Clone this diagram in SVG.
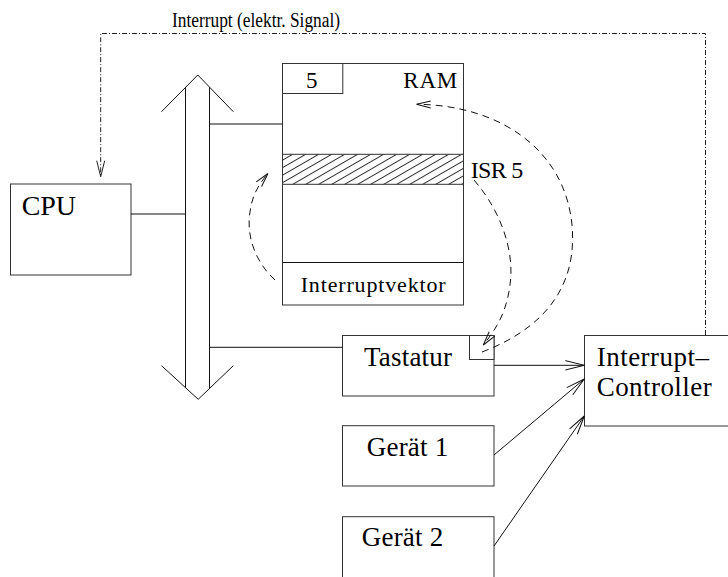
<svg xmlns="http://www.w3.org/2000/svg" width="728" height="577" viewBox="0 0 728 577">
  <style>
    .box { fill: #fff; stroke: #333; stroke-width: 1; }
    .ln { fill: none; stroke: #111; stroke-width: 1; }
    .txt { font-family: "Liberation Serif", "Times New Roman", serif; fill: #000; }
    .dash { fill: none; stroke: #111; stroke-width: 1; stroke-dasharray: 7 5; }
    .dashdot { fill: none; stroke: #222; stroke-width: 1; stroke-dasharray: 5 2 1 2; }
  </style>
  <defs>
    <pattern id="hatch" width="10" height="6.5" patternUnits="userSpaceOnUse" patternTransform="rotate(-30)">
      <line x1="0" y1="0.5" x2="10" y2="0.5" stroke="#111" stroke-width="0.9"/>
    </pattern>
    <marker id="openArrow" markerUnits="userSpaceOnUse" markerWidth="24" markerHeight="14" refX="20" refY="7" orient="auto">
      <path d="M1,2.3 L20,7 L1,11.7" fill="none" stroke="#111" stroke-width="1"/>
    </marker>
    <marker id="smallArrow" markerUnits="userSpaceOnUse" markerWidth="18" markerHeight="12" refX="15" refY="6" orient="auto">
      <path d="M1,2.5 L15,6 L1,9.5" fill="none" stroke="#111" stroke-width="1" stroke-dasharray="none"/>
    </marker>
    <marker id="sigArrow" markerUnits="userSpaceOnUse" markerWidth="20" markerHeight="12" refX="17" refY="6" orient="auto">
      <path d="M1,2 L17,6 L1,10" fill="none" stroke="#222" stroke-width="1" stroke-dasharray="none"/>
    </marker>
  </defs>

  <rect width="728" height="577" fill="#fff"/>

  <!-- system bus: broad double-headed arrow -->
  <g id="bus">
    <path class="ln" d="M161.5,111.7 L197.8,75 L233.3,111.7"/>
    <path class="ln" d="M161.5,365.7 L198.2,399.3 L233.3,365.7"/>
    <line class="ln" x1="185.5" y1="87.3" x2="185.5" y2="388"/>
    <line class="ln" x1="209.5" y1="87.3" x2="209.5" y2="388.5"/>
  </g>

  <g id="cpu">
    <rect class="box" x="10.5" y="184" width="120.5" height="91"/>
    <text class="txt" x="21.7" y="215" font-size="28" textLength="54.3">CPU</text>
  </g>

  <g id="ram">
    <rect class="box" x="282.5" y="63.5" width="181" height="241.5"/>
    <rect class="box" x="282.5" y="63.5" width="60.3" height="30"/>
    <rect x="282.5" y="154.3" width="181" height="30" fill="url(#hatch)" stroke="#333" stroke-width="1"/>
    <line class="ln" x1="282.5" y1="262.5" x2="463.5" y2="262.5" stroke="#333"/>
    <text class="txt" x="311.7" y="88.3" font-size="23" text-anchor="middle">5</text>
    <text class="txt" x="403.3" y="88.3" font-size="23" textLength="54">RAM</text>
    <text class="txt" x="300.7" y="292" font-size="22" textLength="145">Interruptvektor</text>
  </g>

  <g id="isr-label">
    <text class="txt" x="470.7" y="178.3" font-size="24" textLength="52.6">ISR 5</text>
  </g>

  <g id="tastatur">
    <rect class="box" x="342.5" y="335.5" width="151.5" height="60.5"/>
    <rect class="box" x="469.5" y="335.5" width="24.5" height="24"/>
    <text class="txt" x="364" y="366" font-size="27" textLength="88">Tastatur</text>
  </g>

  <g id="geraet1">
    <rect class="box" x="342.5" y="425.7" width="151.5" height="60.3"/>
    <text class="txt" x="366.7" y="455.7" font-size="27" textLength="81.6">Gerät 1</text>
  </g>

  <g id="geraet2">
    <rect class="box" x="342.5" y="516.7" width="151.5" height="62"/>
    <text class="txt" x="361.7" y="546" font-size="27" textLength="81.6">Gerät 2</text>
  </g>

  <g id="controller">
    <rect class="box" x="584.5" y="335.5" width="160" height="90.5"/>
    <text class="txt" x="596.7" y="366" font-size="27" textLength="112.3">Interrupt–</text>
    <text class="txt" x="596.7" y="396" font-size="27" textLength="115">Controller</text>
  </g>

  <g id="connectors">
    <!-- bus attachments -->
    <line class="ln" x1="131" y1="214" x2="185.5" y2="214"/>
    <line class="ln" x1="209.5" y1="124" x2="282.5" y2="124"/>
    <line class="ln" x1="209.5" y1="347.3" x2="342.5" y2="347.3"/>

    <!-- device lines into the interrupt controller -->
    <line class="ln" x1="494" y1="365.3" x2="584.3" y2="365.3" marker-end="url(#openArrow)"/>
    <line class="ln" x1="494" y1="455" x2="584.3" y2="379" marker-end="url(#openArrow)"/>
    <line class="ln" x1="494" y1="546" x2="584.3" y2="416" marker-end="url(#openArrow)"/>

    <!-- interrupt signal back to the CPU -->
    <path class="dashdot" d="M705.5,335 V33.5 H100.7 V176.7" marker-end="url(#sigArrow)"/>
    <text class="txt" x="172" y="26.7" font-size="20" textLength="168" lengthAdjust="spacingAndGlyphs">Interrupt (elektr. Signal)</text>

    <!-- control flow: vector -> ISR, ISR -> device, device -> RAM -->
    <path class="dash" d="M275,280 C255,262 246,235 250,212 C252,195 259,184 268,173.5" marker-end="url(#smallArrow)"/>
    <path class="dash" d="M474,180 C500,210 515,250 510,285 C506,315 495,330 483.3,345" marker-end="url(#smallArrow)"/>
    <path class="dash" d="M482,352 C540,330 578,290 572,225 C565,150 500,105 416.7,104.3" marker-end="url(#smallArrow)"/>
  </g>
</svg>
